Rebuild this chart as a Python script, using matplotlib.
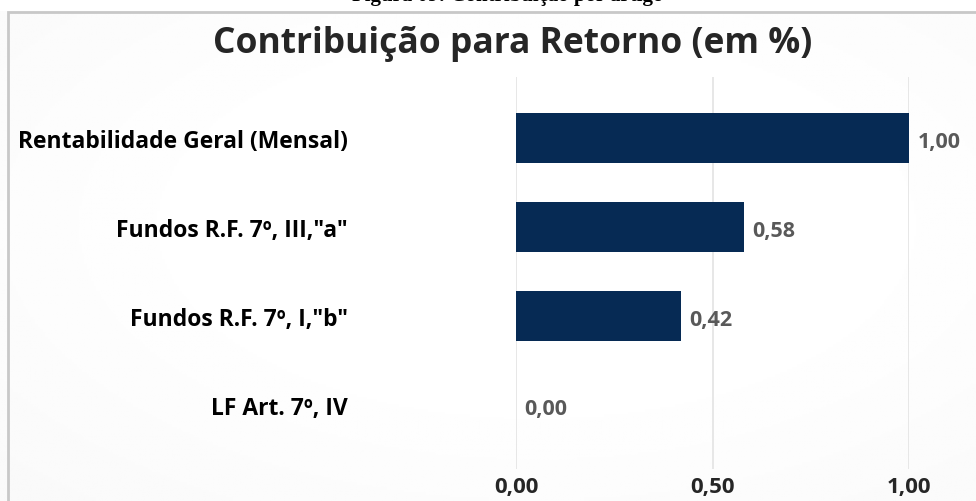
"""Contribuição para Retorno (em %) - barras horizontais."""
import matplotlib.pyplot as plt
import numpy as np
from matplotlib.patches import Rectangle

# dados
categorias = [
    "Rentabilidade Geral (Mensal)",
    'Fundos R.F. 7º, III,"a"',
    'Fundos R.F. 7º, I,"b"',
    "LF Art. 7º, IV",
]
valores = [1.00, 0.58, 0.42, 0.00]
ticks_x = [0.0, 0.5, 1.0]

plt.rcParams["font.family"] = ["Open Sans", "DejaVu Sans"]

fig = plt.figure(figsize=(9.76, 5.02), dpi=100)
fig.patch.set_facecolor("white")

# fundo com leve vinheta
bg = fig.add_axes([0, 0, 1, 1], zorder=-10)
bg.set_axis_off()
yy, xx = np.mgrid[0:1:200j, 0:1:400j]
dist = np.sqrt(((xx - 0.55) / 0.62) ** 2 + ((yy - 0.55) / 0.62) ** 2)
shade = 1 - 0.03 * np.clip(dist - 0.5, 0, 1)
bg.imshow(shade, cmap="gray", vmin=0, vmax=1, extent=[0, 1, 0, 1],
          aspect="auto", origin="lower")
bg.set_xlim(0, 1)
bg.set_ylim(0, 1)
# moldura (parcialmente cortada)
bg.add_patch(Rectangle((8 / 976, -0.1), 1.1, 1 - 13 / 502 + 0.1,
                       fill=False, edgecolor="#c8c8c8", lw=2))
bg.add_patch(Rectangle((0, 1 - 12 / 502), 1, 12 / 502,
                       facecolor="white", edgecolor="none"))

# legenda da figura cortada no topo
fig.text(0.52, 1 - 1.5 / 502, "Figura 09: Contribuição por artigo",
         ha="center", va="baseline", fontsize=15, fontweight="bold",
         family="Liberation Serif")

ax = fig.add_axes([516 / 976, 1 - 470 / 502, (909 - 516) / 976, (470 - 78) / 502])
ax.set_facecolor("none")

pos = np.arange(len(categorias))
ax.barh(pos, valores, height=0.56, color="#062a54", linewidth=0, zorder=3)
ax.set_ylim(len(categorias) - 1 + 0.72, -0.685)
ax.set_xlim(0, 1)

for i, v in enumerate(valores):
    ax.text(v + 0.022, i + 0.04, f"{v:.2f}".replace(".", ","), va="center",
            ha="left", fontsize=15.5, fontweight="bold", color="#595959",
            clip_on=False)

ax.set_xticks(ticks_x)
ax.set_xticklabels([f"{t:.2f}".replace(".", ",") for t in ticks_x],
                   fontsize=16, fontweight="bold", color="#262626")
ax.set_yticks(pos)
ax.set_yticklabels(categorias, fontsize=16.5, fontweight="bold", color="#000000")
ax.tick_params(axis="both", length=0)
ax.tick_params(axis="x", pad=5)
ax.tick_params(axis="y", pad=121)
ax.grid(axis="x", color="#e3e3e3", lw=1.2, zorder=0)
for s in ax.spines.values():
    s.set_visible(False)

fig.text(0.525, 1 - 44 / 502, "Contribuição para Retorno (em %)", ha="center",
         va="center", fontsize=25.5, fontweight="bold", color="#262626")

fig.savefig("out.png", dpi=100)
